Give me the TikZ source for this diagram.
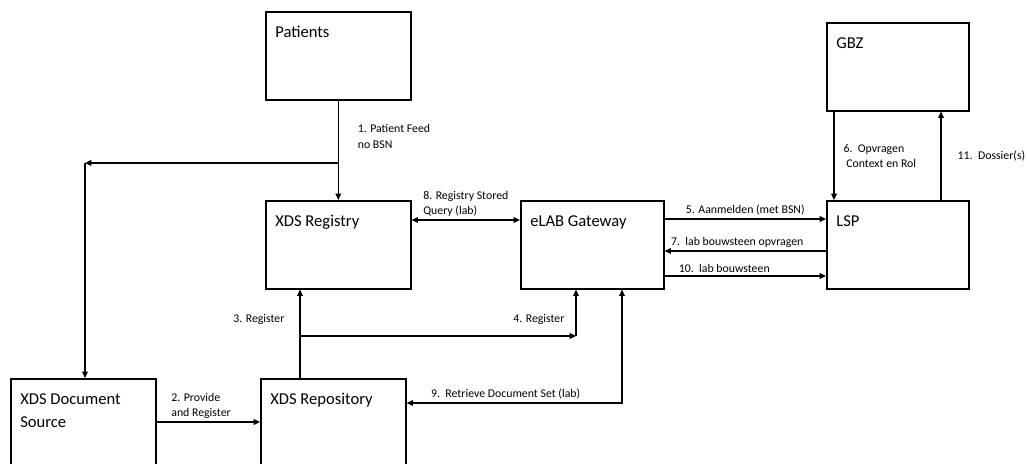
\documentclass[tikz,border=0pt]{standalone}
\usepackage{fontspec}
\setmainfont{Carlito}
\usetikzlibrary{arrows.meta, positioning, calc}

\begin{document}
\begin{tikzpicture}[
    x=0.025cm, y=-0.025cm,
    sysbox/.style={rectangle, draw=black, line width=1.1pt, minimum width=3.625cm, minimum height=2.2cm, anchor=north west, inner sep=0pt},
    ttl/.style={anchor=north west, inner sep=0pt, xshift=0.25cm, yshift=-0.38cm, align=left, font=\fontsize{11.8}{16.3}\selectfont},
    lbl/.style={font=\fontsize{8.4}{10.8}\selectfont, align=left, inner sep=2pt},
    arr/.style={-{Triangle[length=4.5pt, width=4pt]}, line width=1pt},
    arrb/.style={{Triangle[length=4.5pt, width=4pt]}-{Triangle[length=4.5pt, width=4pt]}, line width=1pt}
]
\clip (0,0) rectangle (1027,464);

\node[sysbox, label={[ttl]north west:Patients}] (pat) at (265,11) {};
\node[sysbox, label={[ttl]north west:XDS Registry}] (reg) at (265,200) {};
\node[sysbox, minimum width=3.575cm, label={[ttl]north west:eLAB Gateway}] (gw) at (520,200) {};
\node[sysbox, minimum width=3.55cm, label={[ttl]north west:LSP}] (lsp) at (826,200) {};
\node[sysbox, minimum width=3.55cm, label={[ttl]north west:GBZ}] (gbz) at (826,22) {};
\node[sysbox, minimum height=2.6cm, label={[ttl]north west:{XDS Document\\Source}}] (src) at (10,378) {};
\node[sysbox, minimum height=2.6cm, label={[ttl]north west:XDS Repository}] (repo) at (260,378) {};

\coordinate (feed) at (pat.south |- 0,163);
\coordinate (fcorner) at (85,163);
\coordinate (rj) at (300,336);
\coordinate (rc) at (576,336);

\draw[arr] (pat) -- node[lbl, right, pos=0.36, xshift=0.4cm] {1. Patient Feed\\no BSN} (reg);
\draw[arr] (feed) -- (fcorner);
\draw[arr] (fcorner) -- (fcorner |- src.north);
\draw[arr] (src.east |- 0,422) -- node[lbl, above, pos=0.43] {2. Provide\\and Register} (repo.west |- 0,422);
\draw[arr] (repo.north -| rj) -- node[lbl, left, pos=0.66, xshift=-0.3cm] {3. Register} (reg.south -| rj);
\draw[arr] (rj) -- (rc) node[lbl, above left, xshift=-0.2cm, yshift=0.2cm] {4. Register};
\draw[arr] (rc) -- (gw.south -| rc);
\draw[arrb] (reg.east |- 0,220) -- node[lbl, above] {8. Registry Stored\\Query (lab)} (gw.west |- 0,220);
\draw[arr] (gw.east |- 0,219) -- node[lbl, above] {5. Aanmelden (met BSN)} (lsp.west |- 0,219);
\draw[arr] (lsp.west |- 0,251) -- node[lbl, above, pos=0.55] {7.\ \ lab bouwsteen opvragen} (gw.east |- 0,251);
\draw[arr] (gw.east |- 0,276) -- node[lbl, above, pos=0.37] {10.\ \ lab bouwsteen} (lsp.west |- 0,276);
\draw[arr] (gbz.south -| 834,0) -- node[lbl, right, xshift=0.15cm] {6.\ \ Opvragen\\\hspace*{2pt}Context en Rol} (lsp.north -| 834,0);
\draw[arr] (lsp.north -| 941,0) -- node[lbl, right, xshift=0.33cm] {11.\ \ Dossier(s)} (gbz.south -| 941,0);
\draw[arrb] (gw.south -| 622,0) |- node[lbl, above, pos=0.77] {9.\ \ Retrieve Document Set (lab)} (repo.east |- 0,403);

\end{tikzpicture}
\end{document}
